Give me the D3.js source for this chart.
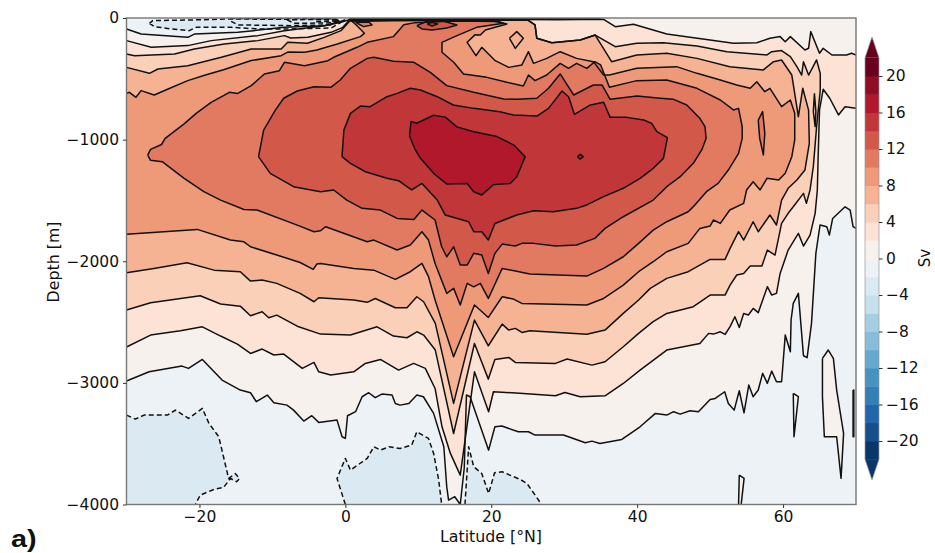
<!DOCTYPE html>
<html><head><meta charset="utf-8">
<script src="https://cdn.jsdelivr.net/npm/d3@7/dist/d3.min.js"></script>
<style>html,body{margin:0;padding:0;background:#fff}svg{display:block}text{font-family:"DejaVu Sans";fill:#111}</style>
</head><body><svg id="c" width="935" height="553"></svg>
<script>
const latTicks=[-20,0,20,40,60];
const depthTicks=[0,-1000,-2000,-3000,-4000];
const barTicks=[20,16,12,8,4,0,-4,-8,-12,-16,-20];
const bandEdges=[-22,-20,-18,-16,-14,-12,-10,-8,-6,-4,-2,0,2,4,6,8,10,12,14,16,18,20,22];
const bandColors=["#0a3769","#164f8c","#2166ac","#337fb7","#4692c1","#65a9cf","#87bdd9","#a6cee3","#c5dfec","#dbe9f2","#ecf2f5","#f7f1ed","#fde3d6","#fbd0b9","#f6b394","#ee9a79","#e27a62","#d25849","#c13639","#b2182b","#8f0d25","#67001f"];

const level0Upper=[[-30,-90],[-28,-132],[-21.6,-159],[-20.7,-132],[-14.75,-118],[-8.35,-77],[-2.9,-63],[-0.6,-27],[0,-15]];
const level0Edge=[[0,0],[70,0]];
const level0Lower=[[70,-1730],[69.6,-1716],[69.2,-1579],[68.5,-1552],[66.8,-1648],[66.35,-1785],[66,-1716],[65.07,-1702],[64.5,-1935],[63.9,-2511],[63.3,-2793],[62.8,-2777],[62.1,-2264],[61.4,-2346],[61.1,-2483],[61,-2744],[60.3,-2607],[59.8,-2991],[59.1,-2991],[58.45,-2903],[57.85,-3004],[57.2,-2922],[56.6,-3059],[55.9,-3114],[55.3,-3018],[54.65,-3246],[54,-3065],[53.3,-3224],[52.5,-3169],[52,-3073],[50.7,-3128],[50,-3136],[48.4,-3237],[47.25,-3229],[45.9,-3257],[45,-3237],[44.06,-3265],[42.5,-3251],[40.4,-3361],[37.9,-3465],[34.9,-3498],[33.8,-3479],[32.9,-3492],[29.9,-3429],[26,-3429],[25.1,-3402],[23.7,-3402],[21.45,-3355],[20.5,-3361],[19.64,-3553],[17.1,-3114],[16.6,-3100],[16.3,-3700],[15.75,-4000],[15,-3936],[14.15,-3964],[13.9,-3854],[13.5,-3525],[12.1,-3251],[10.7,-3114],[9.8,-3100],[8.7,-3169],[7.5,-3183],[6.85,-3169],[6.4,-3100],[5,-3092],[4.1,-3122],[3.2,-3081],[2.3,-3114],[1.4,-3237],[0.3,-3270],[0,-3457],[-0.45,-3443],[-1.14,-3306],[-3.65,-3325],[-4.6,-3270],[-5.7,-3314],[-7.1,-3224],[-8,-3183],[-9.8,-3163],[-10.7,-3100],[-12.2,-3155],[-13,-3081],[-14.4,-3059],[-16.9,-2977],[-19.6,-2807],[-21.5,-2881],[-22.4,-2862],[-26.9,-2909],[-30,-2985]];
const level0IslandA=[[65.4,-2799],[66.2,-2730],[66.9,-2799],[67.35,-3059],[68.3,-3415],[67.95,-3785],[67.35,-3443],[65.66,-3443],[65.4,-3114]];
const level0IslandB=[[61.4,-3087],[62.1,-3114],[61.5,-3443]];
const level0IslandC=[[54,-3758],[54.66,-3785],[54.25,-4005],[53.9,-4005]];
const level0IslandD=[[69.6,-3059],[69.7,-3059],[69.7,-3443],[69.6,-3443]];

const level2Upper=[[-30,-186],[-26.6,-241],[-21.6,-227],[-18.4,-186],[-12,-145],[-8.35,-104],[-2.9,-63],[-0.6,-36],[0.5,-14],[15,-10],[25.8,-12],[28.8,-14],[35.4,-11],[37,-71],[39.5,-52],[44.06,-132],[53.2,-208],[56.4,-203],[58.2,-167],[59.6,-153],[60.3,-195],[61,-153],[63,-263],[63.5,-249],[63.8,-112],[65,-290],[65.5,-249],[66.7,-304],[68.7,-304],[69.4,-290],[70,-304]];
const level2Edge=[[70,-500]];
const level2Lower=[[70,-743],[68.5,-729],[67.6,-797],[66.4,-660],[65.5,-586],[65,-756],[64.8,-1168],[64.7,-1414],[64.4,-1606],[63.7,-1785],[62.8,-1875],[62.1,-1771],[60.7,-1908],[59.6,-2100],[59.1,-2264],[58.45,-2278],[57.85,-2209],[56.6,-2423],[55.9,-2388],[55.25,-2442],[54.6,-2429],[54,-2544],[53.4,-2456],[52.74,-2538],[52.05,-2602],[51.4,-2580],[50.45,-2599],[49.8,-2593],[48.6,-2676],[44.06,-2730],[40.4,-2895],[38.1,-3005],[35.6,-3106],[32.2,-3114],[30.1,-3079],[28.8,-3106],[24.4,-3087],[20.3,-3073],[19.64,-3237],[17.7,-2909],[15.75,-3758],[14.4,-3580],[13.25,-3361],[12.3,-3046],[10.96,-2881],[9.36,-2840],[7.3,-2895],[4.8,-2807],[2.74,-2840],[1.15,-2909],[-2,-2936],[-3.65,-2909],[-4.3,-2832],[-5.9,-2881],[-8.45,-2763],[-9.8,-2771],[-11.4,-2722],[-13,-2758],[-14.8,-2681],[-17.1,-2615],[-19.6,-2539],[-22.6,-2571],[-26.7,-2607],[-30,-2705]];

const level4=[[-30,-296],[-28.9,-310],[-23.4,-296],[-20.7,-255],[-16.6,-214],[-12,-186],[-8.35,-145],[-7.5,-165],[-5.15,-159],[-1.96,-118],[-0.35,-77],[0.5,-20],[15,-14],[25,-15],[26,-57],[26.25,-167],[28.3,-203],[32.2,-181],[34.25,-140],[37,-236],[39.95,-208],[43.6,-203],[48.2,-230],[52.3,-277],[57.8,-304],[58.45,-277],[59.8,-268],[61,-318],[61.9,-400],[62.55,-469],[62.8,-359],[63.5,-469],[64.6,-345],[65.1,-455],[65.1,-592],[64.6,-893],[64.15,-1222],[63.7,-1414],[63.2,-1524],[62.8,-1442],[61.4,-1552],[60.7,-1606],[59.8,-1689],[58.9,-1949],[57.85,-1908],[57.1,-2040],[55.5,-2040],[54.6,-2100],[53.65,-2113],[52.74,-2196],[52.05,-2278],[50,-2278],[47.7,-2374],[44.06,-2429],[42.2,-2497],[40.2,-2593],[38.1,-2703],[35.6,-2826],[33.8,-2854],[30.4,-2804],[28.8,-2840],[23.3,-2832],[22.4,-2791],[20.5,-2807],[19.6,-2969],[17.7,-2676],[14.84,-3416],[12.33,-2730],[10.73,-2607],[9.8,-2580],[8.45,-2629],[6.6,-2615],[4.35,-2539],[0.7,-2607],[-3.4,-2599],[-6.4,-2539],[-9.4,-2443],[-10.5,-2465],[-11.4,-2415],[-13,-2448],[-14.4,-2369],[-17.1,-2352],[-19.9,-2284],[-26.7,-2341],[-30,-2401]];
const level4Island=[[64.3,-620],[64.5,-770],[64.4,-893],[64.15,-770]];

const level6=[[-30,-406],[-26.85,-455],[-25.7,-419],[-21.6,-392],[-17,-323],[-12.9,-255],[-8.8,-255],[-7.9,-200],[-5.2,-208],[-2.9,-159],[-0.6,-104],[0.6,-24],[15,-17],[25,-18],[26,-57],[26.25,-167],[28.3,-203],[32.2,-181],[34.25,-140],[36.5,-359],[39.95,-304],[44.06,-290],[48.2,-332],[52.7,-400],[57.3,-427],[58.7,-359],[59.8,-345],[61.2,-469],[62.1,-811],[62.7,-578],[63.5,-757],[63.6,-1030],[63,-1250],[61.9,-1332],[60.7,-1400],[59.8,-1497],[59.1,-1702],[58.2,-1620],[56.6,-1757],[55.9,-1675],[54.6,-1826],[53.9,-1757],[52.74,-1894],[52.05,-1985],[50,-1985],[47,-2086],[44.06,-2141],[41.8,-2223],[40.2,-2319],[38.1,-2429],[35.6,-2566],[33.1,-2601],[25.3,-2571],[24.2,-2585],[23.3,-2552],[22.4,-2566],[21.5,-2517],[19.6,-2695],[17.7,-2484],[14.84,-3169],[12.33,-2511],[10.73,-2333],[9.8,-2292],[8.45,-2382],[6.85,-2382],[4.1,-2306],[3,-2338],[1.15,-2319],[-3.65,-2300],[-4.3,-2333],[-6.2,-2264],[-9.4,-2182],[-11.4,-2155],[-13,-2163],[-14.4,-2086],[-18,-2073],[-21.7,-2012],[-26.25,-2059],[-30,-2094]];
const level6Hole=[[22.5,-167],[23.5,-112],[24.4,-167],[23.3,-250]];

const level8=[[-30,-620],[-29.6,-611],[-28.7,-652],[-28,-597],[-26.2,-633],[-24.3,-584],[-21.6,-515],[-19.3,-470],[-16.7,-425],[-12.9,-350],[-8.8,-310],[-7.9,-280],[-5.6,-282],[-3.9,-263],[-1.1,-214],[2.06,-153],[2.6,-126],[1.6,-63],[0.9,-27],[8,-18],[20,-20],[22.15,-49],[19.2,-99],[18.5,-140],[17.8,-137],[16.7,-200],[17.9,-310],[18.7,-241],[20.55,-351],[22.4,-406],[24.2,-386],[25.1,-277],[25.8,-373],[27.6,-332],[29.45,-277],[31.7,-332],[34,-359],[35.4,-469],[36.2,-469],[39.95,-414],[45.4,-400],[48.2,-455],[51.4,-510],[53.65,-551],[55.5,-578],[56.4,-524],[57.5,-606],[58.2,-578],[59.8,-729],[61,-674],[61.6,-784],[61.6,-1003],[61.2,-1140],[60.3,-1277],[59.4,-1332],[57.8,-1318],[56.85,-1414],[55.9,-1346],[55,-1414],[54.6,-1524],[52.7,-1579],[51.4,-1689],[50.45,-1661],[50,-1711],[48.6,-1730],[47,-1853],[44.06,-1922],[42.2,-2004],[40.2,-2086],[38.1,-2196],[35.4,-2306],[33.1,-2360],[24.2,-2347],[23.05,-2311],[21.5,-2292],[19.6,-2462],[17.7,-2360],[14.84,-2785],[12.3,-2319],[11.4,-2127],[10.5,-2018],[8.9,-2086],[6.85,-2149],[3.9,-2073],[1.15,-2059],[-3.4,-2018],[-3.9,-2023],[-4.4,-2067],[-6.2,-2010],[-9.4,-1949],[-13,-1881],[-13.9,-1840],[-15.75,-1826],[-20.3,-1738],[-24.9,-1757],[-30,-1777]];

const level10=[[-27.1,-1127],[-26.7,-1080],[-25.2,-1040],[-24.7,-990],[-22.1,-870],[-20.45,-784],[-18.4,-693],[-15.9,-611],[-14.75,-620],[-12.9,-556],[-11.1,-460],[-9.04,-433],[-8.35,-364],[-5.6,-392],[-2.4,-351],[-1.6,-323],[1.6,-241],[3,-200],[6.6,-153],[7.5,-90],[8,-55],[9.4,-40],[15,-25],[21,-28],[21.7,-44],[18,-77],[15.3,-145],[13.25,-200],[13.25,-282],[14.85,-364],[16.2,-460],[19.4,-488],[22.15,-529],[24.4,-559],[25.1,-469],[26,-515],[27.6,-469],[29.45,-373],[30.6,-414],[31.7,-373],[33.1,-414],[34.2,-359],[35,-386],[36.2,-570],[39.95,-515],[44.06,-510],[48.2,-578],[51.4,-674],[53.2,-756],[53.9,-743],[54.4,-894],[54.4,-990],[53.9,-1113],[52.5,-1250],[51.1,-1360],[49.5,-1428],[47.7,-1551],[47,-1593],[44.06,-1675],[42.2,-1744],[40.2,-1853],[38.1,-1963],[35.4,-2059],[33.1,-2122],[25.3,-2105],[21.5,-2059],[19.6,-2306],[18.5,-2182],[17.6,-2210],[16.7,-2182],[15.75,-2360],[14.85,-2223],[13.9,-2264],[12.3,-2018],[11.4,-1826],[10.5,-1757],[8.9,-1867],[7.1,-1908],[3.9,-1826],[3,-1840],[-2.7,-1716],[-3.4,-1749],[-4.3,-1757],[-6.6,-1703],[-12.1,-1579],[-13.9,-1574],[-17.1,-1497],[-19.4,-1428],[-22.1,-1318],[-25.1,-1181],[-26.7,-1170]];
const level10IslandA=[[56.6,-839],[57.2,-770],[57.5,-948],[57.3,-1126],[56.8,-990]];
const level10IslandB=[[1.4,-36],[2.5,-71],[3.66,-57],[3.2,-33]];

const level12=[[-11.9,-1140],[-11.2,-921],[-9.6,-757],[-8.45,-660],[-6.6,-600],[-4.3,-565],[-2,-570],[-0.7,-510],[0.7,-414],[3,-332],[3.9,-323],[6.6,-356],[9.4,-364],[11.65,-447],[13.9,-556],[17.6,-611],[21.7,-666],[23.5,-669],[26.25,-660],[27.85,-578],[29.45,-460],[31.3,-633],[34,-551],[35.2,-551],[36.3,-669],[40,-641],[43.15,-660],[45,-669],[46.8,-715],[48.6,-825],[49.3,-893],[49.45,-990],[48.85,-1085],[47.7,-1195],[45.9,-1305],[44.06,-1387],[42.2,-1497],[38.1,-1634],[35.6,-1730],[34.2,-1812],[31.7,-1867],[28.8,-1875],[25.8,-1853],[24.2,-1853],[23.3,-1875],[21.5,-1859],[20.5,-1935],[19.6,-2100],[18.7,-1949],[17.6,-1935],[16.7,-2031],[15.75,-2031],[14.85,-1881],[13.9,-1963],[13.2,-1881],[12.3,-1661],[10.5,-1579],[9.4,-1656],[7.1,-1648],[4.8,-1579],[2.3,-1565],[0.2,-1497],[-1.6,-1414],[-3.4,-1428],[-7.1,-1387],[-10.3,-1277]];
const level12Island=[[9.8,-63],[11.2,-27],[13.5,-27],[15.3,-57],[13.9,-82],[11.9,-99],[10.5,-90]];
const level12Surface=[[0.5,-6],[10,-8],[20,-8],[28,-5],[35,-2]];

const level14=[[-0.46,-1140],[-0.2,-921],[0.7,-784],[2.06,-724],[3.4,-729],[5.7,-647],[7.1,-620],[8.9,-578],[10.3,-592],[12.6,-647],[14.8,-715],[17.6,-743],[21.2,-770],[23.06,-798],[26.25,-806],[27.85,-743],[29.7,-600],[30.6,-647],[31.4,-792],[33.6,-715],[35.4,-693],[36.3,-817],[38.6,-817],[40.9,-839],[42,-866],[42.7,-935],[44.15,-984],[43.6,-1154],[42.2,-1236],[40.4,-1318],[38.1,-1400],[35.4,-1469],[33.1,-1537],[31.7,-1565],[28.5,-1593],[25.8,-1585],[23.5,-1620],[20.5,-1689],[19.6,-1826],[18.7,-1757],[17.6,-1757],[16.9,-1675],[13.7,-1620],[12.6,-1497],[10.5,-1360],[9.1,-1414],[8.45,-1387],[7.3,-1338],[5.7,-1318],[2.75,-1264],[0.7,-1195]];
const level14Island=[[11.2,-49],[11.9,-36],[12.65,-49],[11.9,-66]];

const level16=[[9,-850],[9.8,-865],[12.1,-800],[13.7,-815],[15.3,-895],[17.6,-935],[20.8,-975],[23.1,-1045],[24.65,-1140],[23.5,-1305],[22.6,-1360],[20.3,-1370],[18.7,-1455],[17.6,-1428],[16.7,-1360],[13.9,-1365],[12.1,-1277],[10.3,-1154],[9.6,-1085],[8.8,-970]];
const level16Island=[[31.8,-1140],[32.2,-1120],[32.6,-1140],[32.2,-1160]];

const minus2Top=[[-26.85,-44],[-26.15,-71],[-23.9,-90],[-21.4,-104],[-20.45,-77],[-15.65,-77],[-12,-90],[-7.4,-90],[-1.95,-82],[-0.6,-36],[-1,-14],[-15.65,-8],[-21.1,-16],[-26.4,-22]];
const minus2West=[[-30,-3265],[-28.8,-3298],[-27.6,-3265],[-24.4,-3265],[-23.3,-3224],[-21.5,-3292],[-19.6,-3210],[-18.7,-3333],[-17.35,-3443],[-16,-3786],[-15.1,-3745],[-14.5,-3786],[-14.9,-3813],[-15.75,-3786],[-16.7,-3860],[-18,-3876],[-19.9,-3923],[-20.55,-4000]];
const minus2WestEdge=[[-30,-4000]];
const minus2Mid=[[0,-4000],[-1.14,-3786],[0,-3621],[0.7,-3717],[3,-3621],[3.9,-3525],[4.8,-3553],[6,-3525],[7.5,-3539],[9.1,-3511],[9.8,-3402],[11.4,-3457],[12.1,-3580],[12.8,-3800],[13.2,-4000]];
const minus2East=[[16.4,-4000],[16.9,-3525],[17.6,-3690],[18.7,-3745],[19.64,-3909],[20.46,-3739],[21.5,-3731],[23.97,-3794],[24.9,-3827],[26.9,-4000]];
const minus4Top=[[-15.65,-27],[-14.75,-57],[-7.4,-63],[-1.95,-57],[-0.7,-27],[-1.5,-6],[-15.65,-3]];
const minus6Top=[[-8,-15],[-7,-44],[-2,-40],[-0.8,-20],[-2,-6]];
const minus8Top=[[-4,-30],[-1,-25],[-1.2,-12],[-4,-12]];

const closed=p=>p.concat([p[0]]);
const shapes=[
 {v:-2,dash:true,parts:[closed(minus2Top)]},
 {v:-2,dash:true,parts:[minus2West],edge:[minus2WestEdge]},
 {v:-2,dash:true,parts:[minus2Mid]},
 {v:-2,dash:true,parts:[minus2East]},
 {v:-4,dash:true,noFill:true,parts:[closed(minus4Top)]},
 {v:-6,dash:true,noFill:true,parts:[closed(minus6Top)]},
 {v:-8,dash:true,noFill:true,parts:[closed(minus8Top)]},
 {v:0,parts:[level0Upper,level0Edge,level0Lower],mix:true},
 {v:0,parts:[closed(level0IslandA)]},{v:0,parts:[closed(level0IslandB)]},{v:0,parts:[closed(level0IslandC)]},{v:0,parts:[closed(level0IslandD)]},
 {v:2,parts:[level2Upper,level2Edge,level2Lower],mix:true},
 {v:4,parts:[level4]},{v:4,parts:[closed(level4Island)]},
 {v:6,parts:[level6]},{v:6,parts:[closed(level6Hole)],noFill:true},
 {v:8,parts:[level8]},
 {v:10,parts:[closed(level10)]},{v:10,parts:[closed(level10IslandA)]},{v:10,parts:[closed(level10IslandB)]},
 {v:12,parts:[closed(level12)]},{v:12,parts:[closed(level12Island)]},{v:12,parts:[level12Surface],noFill:true,heavy:true},
 {v:14,parts:[closed(level14)]},{v:14,parts:[closed(level14Island)]},
 {v:16,parts:[closed(level16)]},{v:16,parts:[closed(level16Island)]}
];

const M={l:126.5,r:856,t:18,b:504.5};
const x=d3.scaleLinear().domain([-30,70]).range([M.l,M.r]);
const y=d3.scaleLinear().domain([0,-4000]).range([M.t,M.b]);
const fillOf=v=>v>=0?bandColors[bandEdges.indexOf(v)]:bandColors[bandEdges.indexOf(v)-1];

const svg=d3.select("#c");
svg.append("defs").append("clipPath").attr("id","pc").append("rect").attr("x",M.l).attr("y",M.t).attr("width",M.r-M.l).attr("height",M.b-M.t);
const plot=svg.append("g").attr("clip-path","url(#pc)");
plot.append("rect").attr("x",M.l).attr("y",M.t).attr("width",M.r-M.l).attr("height",M.b-M.t).attr("fill",bandColors[bandEdges.indexOf(-2)]);
const line=d3.line().x(d=>x(d[0])).y(d=>y(d[1]));
const fills=plot.append("g"),strokes=plot.append("g");
shapes.forEach(s=>{
  const all=[].concat(...s.parts,...(s.edge||[]));
  if(!s.noFill) fills.append("path").attr("d",line(all)+"Z").attr("fill",fillOf(s.v));
  s.parts.forEach((p,i)=>{
    if(s.mix&&i===1) return;
    strokes.append("path").attr("d",line(p)).attr("fill","none").attr("stroke","#111").attr("stroke-width",s.heavy?3:1.5).attr("stroke-linejoin","round").attr("stroke-dasharray",s.dash?"5,3":null);
  });
});
svg.append("rect").attr("x",M.l).attr("y",M.t).attr("width",M.r-M.l).attr("height",M.b-M.t).attr("fill","none").attr("stroke","#777").attr("stroke-width",1.4);

const fmt=d=>d3.format("d")(d);
const ax=svg.append("g").attr("transform",`translate(0,${M.b})`).call(d3.axisBottom(x).tickValues(latTicks).tickFormat(fmt).tickSize(3.5).tickPadding(3));
const ay=svg.append("g").attr("transform",`translate(${M.l},0)`).call(d3.axisLeft(y).tickValues(depthTicks).tickFormat(fmt).tickSize(3.5).tickPadding(4));
[ax,ay].forEach(a=>{a.select(".domain").remove();a.selectAll("text").attr("font-size",15.5).attr("font-family","DejaVu Sans");a.selectAll("line").attr("stroke","#333");});
svg.append("text").attr("x",491).attr("y",542).attr("text-anchor","middle").attr("font-size",15.8).text("Latitude [°N]");
svg.append("text").attr("transform","translate(59,262) rotate(-90)").attr("text-anchor","middle").attr("font-size",15.8).text("Depth [m]");
svg.append("text").attr("transform","translate(11,547) scale(1.2,1)").attr("font-size",24).attr("font-weight","bold").style("font-family","Liberation Sans").text("a)");

const cb=d3.scaleLinear().domain([-20,20]).range([441,76]);
const bx0=865,bx1=879;
const bar=svg.append("g");
bandEdges.slice(0,-1).forEach((e,i)=>{
  bar.append("rect").attr("x",bx0).attr("width",bx1-bx0).attr("y",cb(bandEdges[i+1])).attr("height",cb(e)-cb(bandEdges[i+1])+0.5).attr("fill",bandColors[i]);
});
bar.append("path").attr("d",`M${bx0},${cb(22)}L${(bx0+bx1)/2},37L${bx1},${cb(22)}Z`).attr("fill",bandColors[21]);
bar.append("path").attr("d",`M${bx0},${cb(-22)}L${(bx0+bx1)/2},480L${bx1},${cb(-22)}Z`).attr("fill",bandColors[0]);
bar.append("path").attr("d",`M${bx0},${cb(-22)}V${cb(22)}L${(bx0+bx1)/2},37L${bx1},${cb(22)}V${cb(-22)}L${(bx0+bx1)/2},480Z`).attr("fill","none").attr("stroke","#999").attr("stroke-width",0.7);
const ac=svg.append("g").attr("transform",`translate(${bx1},0)`).call(d3.axisRight(cb).tickValues(barTicks).tickFormat(fmt).tickSize(3.5).tickPadding(3.5));
ac.select(".domain").remove();ac.selectAll("text").attr("font-size",15.5).attr("font-family","DejaVu Sans");ac.selectAll("line").attr("stroke","#333");
svg.append("text").attr("transform","translate(930,258) rotate(-90)").attr("text-anchor","middle").attr("font-size",15).text("Sv");
</script></body></html>
